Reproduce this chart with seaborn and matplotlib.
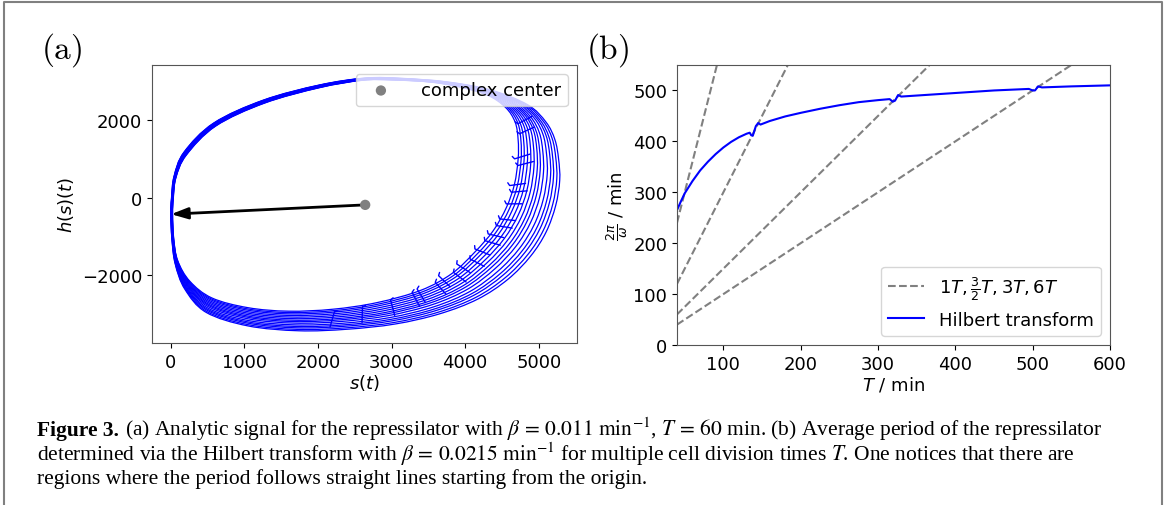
import numpy as np
import matplotlib
matplotlib.use("Agg")
import matplotlib.pyplot as plt
from matplotlib.path import Path
from matplotlib.patches import PathPatch
from matplotlib.lines import Line2D
import seaborn as sns

# ---- panel (a): analytic signal, envelopes (counter-clockwise from the left point)
outer_s = [0, 15, 60, 190, 480, 1050, 1739, 2400, 3050, 3650, 4170, 4580, 4890, 5100, 5230,
           5285, 5270, 5220, 5100, 4850, 4350, 3750, 3150, 2650, 2020, 1258, 584, 180, 45, 10]
outer_h = [-420, -1050, -1700, -2350, -2950, -3300, -3425, -3385, -3250, -2990, -2610, -2100, -1500, -880, -200,
           450, 1000, 1500, 1950, 2400, 2780, 2990, 3080, 3090, 2910, 2520, 1930, 1180, 560, 0]
inner_s = [25, 40, 95, 260, 560, 1050, 1600, 2200, 2800, 3400, 3820, 4130, 4380, 4560, 4670,
           4720, 4720, 4680, 4550, 4300, 3900, 3500, 3000, 2600, 2020, 1270, 610, 210, 70, 35]
inner_h = [-420, -1050, -1620, -2150, -2580, -2830, -2920, -2870, -2700, -2380, -1950, -1400, -850, -250, 350,
           1000, 1500, 1950, 2330, 2650, 2870, 2990, 3040, 3030, 2840, 2440, 1850, 1100, 520, 0]
# position of each drawn loop between the inner (0) and outer (1) envelope
loop_mix = [1.0, 0.93, 0.85, 0.78, 0.7, 0.61, 0.53, 0.46, 0.38, 0.3, 0.22, 0.14, 0.07, 0.0]

# kinks from cell division (inner tips of the hooks)
hook_s = [4717, 4740, 4672, 4717, 4605, 4627, 4559, 4469, 4425, 4313, 4268, 4133,
          4066, 3886, 3841, 3639, 3594, 3347, 3279, 2987, 2605, 2224]
hook_h = [1910, 1652, 1006, 834, 318, 146, -155, -542, -714, -929, -1101, -1316,
          -1574, -1703, -1918, -2004, -2176, -2348, -2434, -2632, -2805, -2934]

center_s, center_h = 2642, -180
arrow_s, arrow_h = 5, -420

# ---- panel (b): average period vs division time
T_div = [40, 45, 50, 60, 70, 80, 90, 100, 110, 120, 130, 134, 136, 138, 142, 145, 148,
         160, 180, 200, 225, 250, 275, 300, 315, 319, 322, 326, 330, 350, 400, 450,
         495, 500, 503, 507, 512, 550, 600]
period = [265, 282, 298, 322, 343, 360, 375, 388, 399, 408, 415, 417, 412, 411, 430, 436, 433,
          440, 449, 456, 464, 471, 477, 481, 483, 478, 480, 491, 488, 490, 495, 500,
          503, 500, 500, 508, 506, 508, 510]
ratios = [1, 1.5, 3, 6]
T_span = [40, 600]

W, H = 1167, 506
fig = plt.figure(figsize=(W / 100, H / 100), dpi=100)
ax1 = fig.add_axes([152 / W, 1 - 344 / H, 425 / W, 278 / H])
ax2 = fig.add_axes([677 / W, 1 - 346 / H, 433 / W, 280 / H])


def closed_curve(xs, ys):
    # smooth closed path through the given points (Catmull-Rom as cubic Beziers)
    P = np.column_stack([xs, ys]).astype(float)
    n = len(P)
    verts, codes = [P[0]], [Path.MOVETO]
    for i in range(n):
        p0, p1, p2, p3 = P[i - 1], P[i], P[(i + 1) % n], P[(i + 2) % n]
        verts += [p1 + (p2 - p0) / 6, p2 - (p3 - p1) / 6, p2]
        codes += [Path.CURVE4] * 3
    return Path(verts, codes)


o_s, o_h = np.array(outer_s), np.array(outer_h)
i_s, i_h = np.array(inner_s), np.array(inner_h)
for w in loop_mix:
    path = closed_curve(w * o_s + (1 - w) * i_s, w * o_h + (1 - w) * i_h)
    ax1.add_patch(PathPatch(path, fill=False, edgecolor="blue", lw=0.9))

xlim1, ylim1 = (-255, 5520), (-3740, 3425)
ax1.set_xlim(*xlim1)
ax1.set_ylim(*ylim1)

# hooks: radial strokes pointing outward from the kink tip, with a small curl at the tip
px_x = 425 / (xlim1[1] - xlim1[0])
px_y = 278 / (ylim1[1] - ylim1[0])
for hs, hh in zip(hook_s, hook_h):
    dx, dy = (hs - center_s) * px_x, (hh - center_h) * px_y
    n = np.hypot(dx, dy)
    ux, uy = dx / n, dy / n
    L = 16
    ax1.plot([hs - 3 * uy / px_x - 1.5 * ux / px_x, hs, hs + L * ux / px_x],
             [hh + 3 * ux / px_y - 1.5 * uy / px_y, hh, hh + L * uy / px_y],
             color="blue", lw=1.0, solid_capstyle="round")

ax1.annotate("", xy=(arrow_s, arrow_h), xytext=(center_s, center_h),
             arrowprops=dict(arrowstyle="-|>,head_length=0.5,head_width=0.17", color="black",
                             lw=2, mutation_scale=20, shrinkA=0, shrinkB=0), zorder=4)
sns.scatterplot(x=[center_s], y=[center_h], color="gray", s=55, edgecolor="none",
                label="complex center", ax=ax1, zorder=5)
ax1.legend(loc="upper right", fontsize=13, handletextpad=1.2)
ax1.set_xticks([0, 1000, 2000, 3000, 4000, 5000])
ax1.set_yticks([-2000, 0, 2000])
ax1.set_xlabel(r"$s(t)$", fontsize=13, labelpad=1)
ax1.set_ylabel(r"$h(s)(t)$", fontsize=13)
ax1.tick_params(labelsize=13)

for k, r in enumerate(ratios):
    sns.lineplot(x=T_span, y=[r * t for t in T_span], color="gray", linestyle="--", lw=1.5,
                 label=r"$1T, \frac{3}{2}T, 3T, 6T$" if k == 0 else None, ax=ax2)
sns.lineplot(x=T_div, y=period, color="blue", lw=1.5, sort=False, estimator=None,
             label="Hilbert transform", ax=ax2)
ax2.set_xlim(40, 600)
ax2.set_ylim(0, 550)
ax2.set_xticks([100, 200, 300, 400, 500, 600])
ax2.set_yticks([0, 100, 200, 300, 400, 500])
ax2.set_xlabel(r"$T$ / min", fontsize=13, labelpad=1)
ax2.set_ylabel(r"$\frac{2\pi}{\omega}$ / min", fontsize=13, labelpad=2)
ax2.tick_params(labelsize=13)
ax2.legend(loc="lower right", fontsize=13)

for ax in (ax1, ax2):
    for sp in ax.spines.values():
        sp.set_color("#555555")

fig.text(62 / W, 1 - 50 / H, r"$\mathrm{(a)}$", fontsize=24, ha="center", va="center", math_fontfamily="cm")
fig.text(608 / W, 1 - 50 / H, r"$\mathrm{(b)}$", fontsize=24, ha="center", va="center", math_fontfamily="cm")

# caption
cap = dict(fontsize=15.5, family="Liberation Serif", math_fontfamily="stix", va="baseline")
fig.text(37 / W, 1 - 436 / H, "Figure 3.", fontweight="bold", **cap)
fig.text(125 / W, 1 - 436 / H,
         r"(a) Analytic signal for the repressilator with $\beta\,=\,0.011\ \mathrm{min}^{-1}$, $T\,=\,60$ min. "
         r"(b) Average period of the repressilator", **cap)
fig.text(37 / W, 1 - 461 / H,
         r"determined via the Hilbert transform with $\beta\,=\,0.0215\ \mathrm{min}^{-1}$ for multiple cell "
         r"division times $T$. One notices that there are", **cap)
fig.text(37 / W, 1 - 484 / H,
         "regions where the period follows straight lines starting from the origin.", **cap)

fig.add_artist(Line2D([4 / W, 4 / W, 1162 / W, 1162 / W], [0, 1 - 3 / H, 1 - 3 / H, 0],
                      transform=fig.transFigure, color="#808080", lw=1.5))

fig.savefig("out.png", dpi=100)
